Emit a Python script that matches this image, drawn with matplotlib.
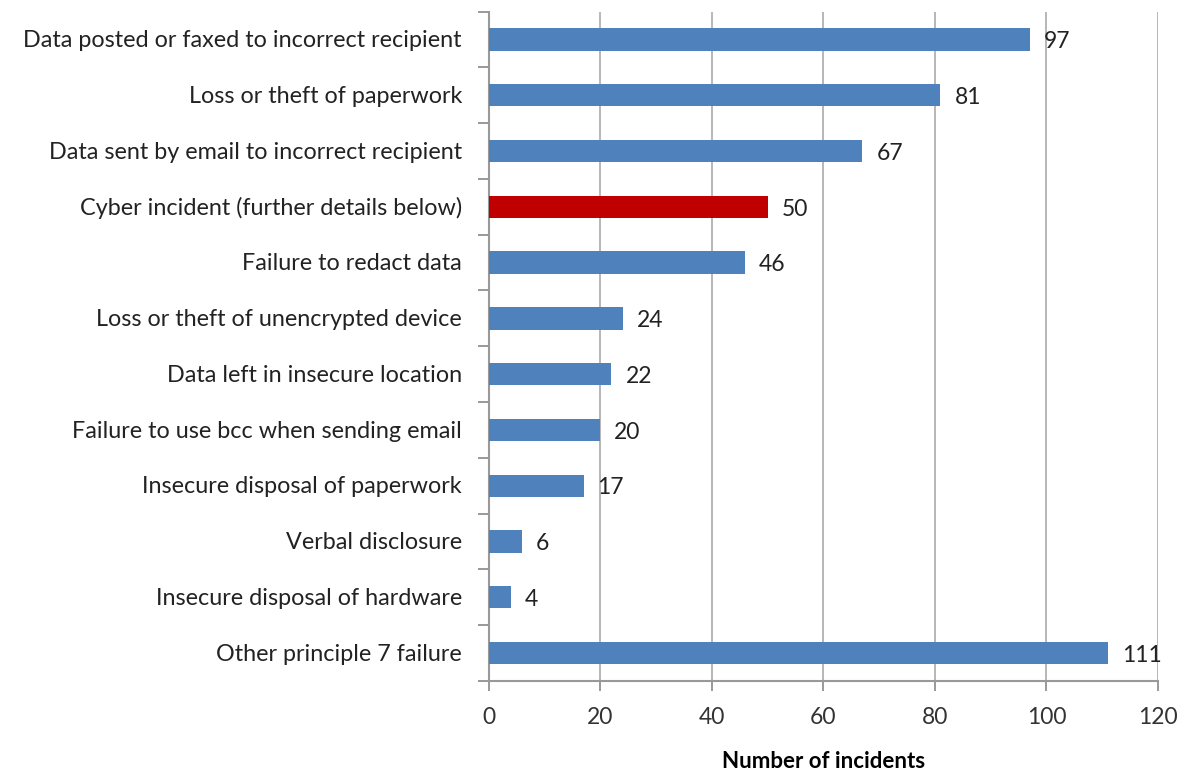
import matplotlib.pyplot as plt

categories = [
    'Data posted or faxed to incorrect recipient',
    'Loss or theft of paperwork',
    'Data sent by email to incorrect recipient',
    'Cyber incident (further details below)',
    'Failure to redact data',
    'Loss or theft of unencrypted device',
    'Data left in insecure location',
    'Failure to use bcc when sending email',
    'Insecure disposal of paperwork',
    'Verbal disclosure',
    'Insecure disposal of hardware',
    'Other principle 7 failure',
]
incidents = [97, 81, 67, 50, 46, 24, 22, 20, 17, 6, 4, 111]
highlight = 'Cyber incident (further details below)'

plt.rcParams['font.family'] = ['Lato', 'DejaVu Sans']

fig = plt.figure(figsize=(11.95, 7.72), dpi=100)
ax = fig.add_axes([0.409, 0.118, 0.560, 0.867])

colors = ['#C00000' if c == highlight else '#4F81BD' for c in categories]
pos = list(range(len(categories)))
ax.barh(pos, incidents, height=0.4, color=colors, zorder=3)

for p, v in zip(pos, incidents):
    ax.text(v + 2.5, p + 0.04, str(v), va='center', ha='left', fontsize=16.5, color='#222222', zorder=4)

ax.set_ylim(len(categories) - 0.5, -0.5)
ax.set_xlim(0, 120)
ax.set_xticks(range(0, 121, 20))
ax.tick_params(axis='x', labelsize=16.5, colors='#888888', labelcolor='#333333', length=7, width=1.2, pad=12)

# category ticks sit between bars, labels are placed at bar centres
ax.set_yticks([p - 0.5 for p in pos] + [len(categories) - 0.5])
ax.set_yticklabels([])
ax.tick_params(axis='y', length=8, width=1.2, colors='#888888')
for p, c in zip(pos, categories):
    ax.text(-0.04, p + 0.02, c, transform=ax.get_yaxis_transform(), ha='right', va='center',
            fontsize=16.8, color='#222222')

ax.grid(axis='x', color='#aaaaaa', linewidth=1.2, zorder=0)
for side in ['top', 'right']:
    ax.spines[side].set_visible(False)
ax.spines['left'].set_color('#999999')
ax.spines['bottom'].set_color('#999999')
ax.spines['left'].set_linewidth(1.5)
ax.spines['bottom'].set_linewidth(1.5)

ax.set_xlabel('Number of incidents', fontsize=16, fontweight='bold', labelpad=16)

fig.savefig('out.png', dpi=100)
